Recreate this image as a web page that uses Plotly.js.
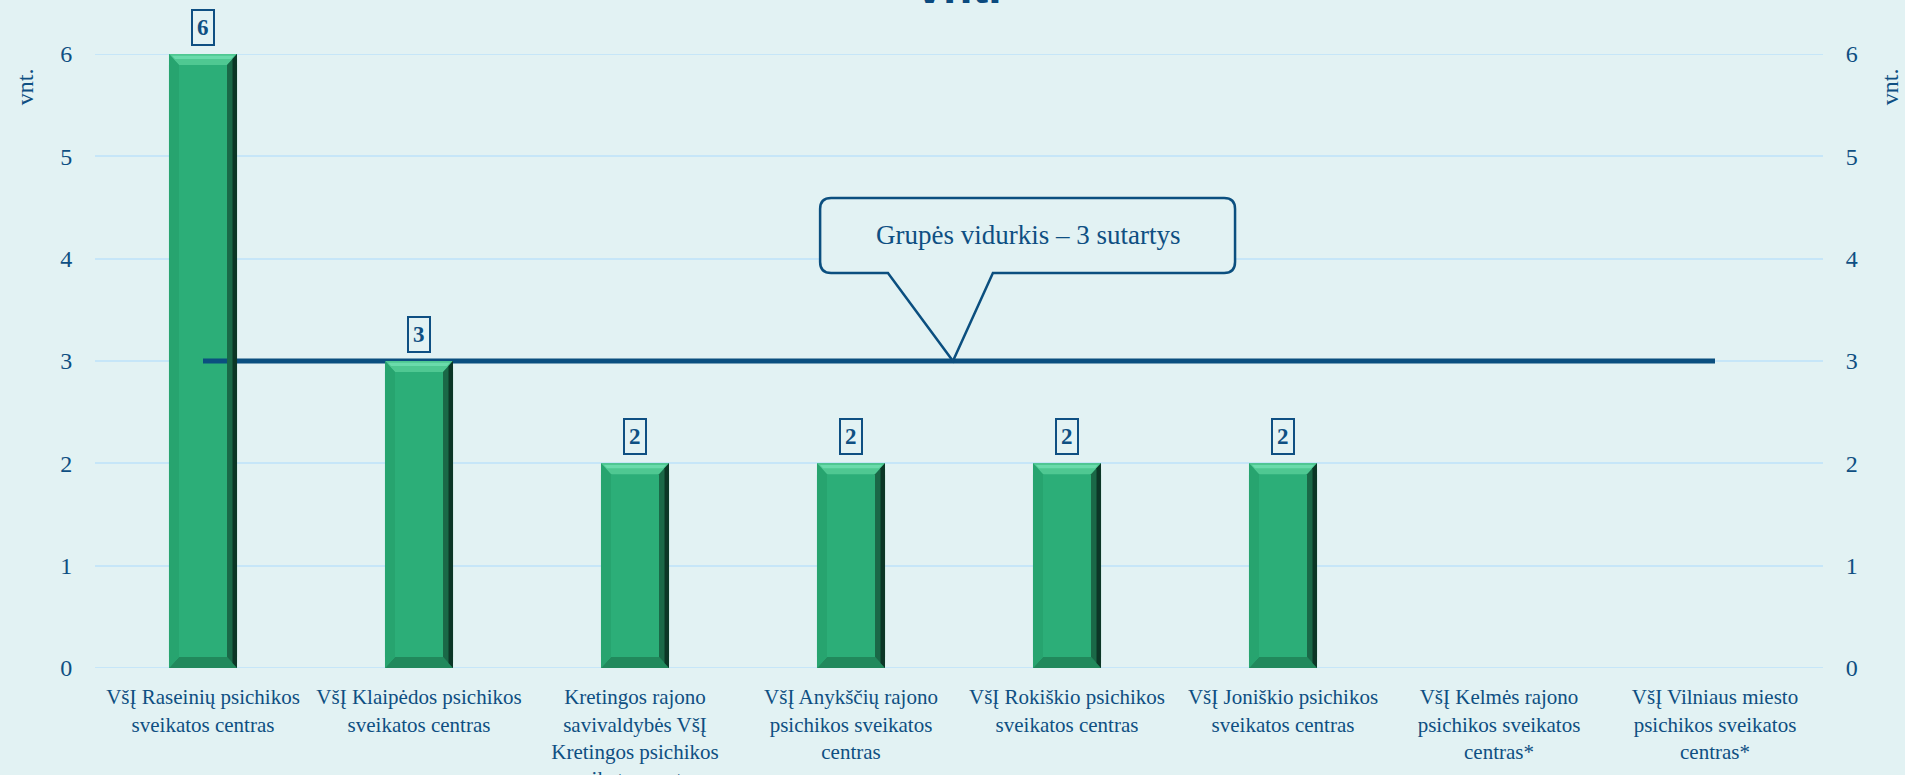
<!DOCTYPE html>
<html>
<head>
<meta charset="utf-8">
<script src="https://cdn.plot.ly/plotly-3.0.1.min.js"></script>
<style>
html,body{margin:0;padding:0;background:#e2f2f3;}
#chart{width:1905px;height:775px;}
</style>
</head>
<body>
<div id="chart"></div>
<script>
// ---- data ----
const categories = [
  'VšĮ Raseinių psichikos sveikatos centras',
  'VšĮ Klaipėdos psichikos sveikatos centras',
  'Kretingos rajono savivaldybės VšĮ Kretingos psichikos sveikatos centras',
  'VšĮ Anykščių rajono psichikos sveikatos centras',
  'VšĮ Rokiškio psichikos sveikatos centras',
  'VšĮ Joniškio psichikos sveikatos centras',
  'VšĮ Kelmės rajono psichikos sveikatos centras*',
  'VšĮ Vilniaus miesto psichikos sveikatos centras*'
];
const tickLabels = [
  'VšĮ Raseinių psichikos<br>sveikatos centras',
  'VšĮ Klaipėdos psichikos<br>sveikatos centras',
  'Kretingos rajono<br>savivaldybės VšĮ<br>Kretingos psichikos<br>sveikatos centras',
  'VšĮ Anykščių rajono<br>psichikos sveikatos<br>centras',
  'VšĮ Rokiškio psichikos<br>sveikatos centras',
  'VšĮ Joniškio psichikos<br>sveikatos centras',
  'VšĮ Kelmės rajono<br>psichikos sveikatos<br>centras*',
  'VšĮ Vilniaus miesto<br>psichikos sveikatos<br>centras*'
];
const values = [6, 3, 2, 2, 2, 2, 0, 0];
const groupAverage = 3;
const averageLabel = 'Grupės vidurkis – 3 sutartys';
const yTicks = [0, 1, 2, 3, 4, 5, 6];
const axisUnit = 'vnt.';
const chartTitle = 'vnt.';

// ---- styling ----
const BG = '#e2f2f3';
const TXT = '#0e4f82';
const LINE = '#0b4f7f';
const GRID = '#c6e6f8';
const SERIF = 'Liberation Serif, Times New Roman, serif';
const barWidth = 0.315;
const idx = categories.map((_, i) => i);
const yMin = yTicks[0], yMax = yTicks[yTicks.length - 1];

const barTrace = {
  type: 'bar', x: idx, y: values, width: barWidth,
  marker: {color: '#2cae78', line: {width: 0}},
  hoverinfo: 'skip', showlegend: false
};
const avgTrace = {
  type: 'scatter', mode: 'lines',
  x: [idx[0], idx[idx.length - 1]], y: [groupAverage, groupAverage],
  line: {color: LINE, width: 5},
  hoverinfo: 'skip', showlegend: false
};
const ghost = {
  type: 'scatter', mode: 'markers', x: [idx[0]], y: [0], yaxis: 'y2',
  marker: {opacity: 0}, hoverinfo: 'skip', showlegend: false
};

const shapes = [];
// edge gridlines (0 and max), drawn below the bars
[yMin, yMax].forEach(v => shapes.push({
  type: 'line', xref: 'paper', yref: 'y', x0: 0, x1: 1, y0: v, y1: v,
  layer: 'below', line: {color: GRID, width: 2}
}));

// bevel decoration on bars (pixel-constant sizes converted to data units)
const pxPerX = 1728 / 8, pxPerY = 614 / 6;
const bx = 10 / pxPerX, by = 11 / pxPerY;
values.forEach((v, i) => {
  if (v <= 0) return;
  const x0 = i - barWidth / 2, x1 = i + barWidth / 2;
  const poly = (pts, col) => shapes.push({
    type: 'path', xref: 'x', yref: 'y', layer: 'above',
    path: 'M' + pts.map(p => p[0] + ',' + p[1]).join(' L') + ' Z',
    fillcolor: col, line: {width: 0}
  });
  poly([[x0, v], [x1, v], [x1 - bx, v - by], [x0 + bx, v - by]], '#4fc892');
  poly([[x0 + bx * 0.3, v - by * 0.15], [x1 - bx * 0.3, v - by * 0.15], [x1 - bx * 0.6, v - by * 0.45], [x0 + bx * 0.6, v - by * 0.45]], '#6adbab');
  poly([[x0, 0], [x1, 0], [x1 - bx, by], [x0 + bx, by]], '#21895c');
  poly([[x0, v], [x0 + bx, v - by], [x0 + bx, by], [x0, 0]], '#27a46f');
  poly([[x1, v], [x1 - bx, v - by], [x1 - bx, by], [x1, 0]], '#1a6847');
  poly([[x1, v], [x1 - bx * 0.45, v - by * 0.45], [x1 - bx * 0.45, by * 0.45], [x1, 0]], '#0c3626');
});

// callout bubble
const cL = 2.857, cR = 4.778, cT = 4.593, cB = 3.860;
const rx = 11 / pxPerX, ry = 11 / pxPerY;
const pA = 3.171, pB = 3.657, tipX = 3.472;
const calloutPath =
  `M${cL + rx},${cT} L${cR - rx},${cT} Q${cR},${cT} ${cR},${cT - ry} ` +
  `L${cR},${cB + ry} Q${cR},${cB} ${cR - rx},${cB} ` +
  `L${pB},${cB} L${tipX},${groupAverage} L${pA},${cB} ` +
  `L${cL + rx},${cB} Q${cL},${cB} ${cL},${cB + ry} ` +
  `L${cL},${cT - ry} Q${cL},${cT} ${cL + rx},${cT} Z`;
shapes.push({
  type: 'path', xref: 'x', yref: 'y', layer: 'above', path: calloutPath,
  fillcolor: BG, line: {color: LINE, width: 2.5}
});

const annotations = [];
values.forEach((v, i) => {
  if (v <= 0) return;
  annotations.push({
    x: i, y: v, xref: 'x', yref: 'y', yanchor: 'bottom', yshift: 8,
    text: '<b>' + v + '</b>', showarrow: false,
    font: {family: SERIF, size: 23, color: TXT},
    bordercolor: TXT, borderwidth: 2, borderpad: 4
  });
});
annotations.push({
  x: (cL + cR) / 2, y: (cT + cB) / 2, xref: 'x', yref: 'y',
  text: averageLabel, showarrow: false,
  font: {family: SERIF, size: 27, color: TXT}
});
annotations.push({
  x: -0.0405, y: 0.946, xref: 'paper', yref: 'paper', xanchor: 'center', yanchor: 'middle',
  textangle: -90, text: axisUnit, showarrow: false,
  font: {family: SERIF, size: 24, color: TXT}
});
annotations.push({
  x: 1.0388, y: 0.946, xref: 'paper', yref: 'paper', xanchor: 'center', yanchor: 'middle',
  textangle: -90, text: axisUnit, showarrow: false,
  font: {family: SERIF, size: 24, color: TXT}
});

const yCommon = {
  range: [yMin, yMax], tickvals: yTicks, ticktext: yTicks.map(String),
  ticks: 'outside', ticklen: 17, tickcolor: 'rgba(0,0,0,0)',
  tickfont: {family: SERIF, size: 24, color: TXT},
  showline: false, zeroline: false, fixedrange: true
};

const layout = {
  width: 1905, height: 775,
  paper_bgcolor: BG, plot_bgcolor: BG,
  margin: {l: 95, r: 82, t: 54, b: 107, autoexpand: false},
  title: {
    text: '<b>' + chartTitle + '</b>', xref: 'paper', x: 0.5,
    yref: 'container', y: 0.996, yanchor: 'bottom',
    font: {family: 'Liberation Sans, Arial, sans-serif', size: 48, color: '#0b4a7e'}
  },
  xaxis: {
    type: 'linear', range: [-0.5, 7.5], tickvals: idx, ticktext: tickLabels,
    ticks: 'outside', ticklen: 10, tickcolor: 'rgba(0,0,0,0)',
    tickfont: {family: SERIF, size: 21, color: TXT},
    showgrid: false, zeroline: false, showline: false, fixedrange: true
  },
  yaxis: Object.assign({}, yCommon, {showgrid: true, gridcolor: GRID, gridwidth: 2}),
  yaxis2: Object.assign({}, yCommon, {overlaying: 'y', side: 'right', showgrid: false}),
  shapes: shapes,
  annotations: annotations,
  showlegend: false
};

Plotly.newPlot('chart', [barTrace, avgTrace, ghost], layout, {displayModeBar: false, staticPlot: true});
</script>
</body>
</html>
